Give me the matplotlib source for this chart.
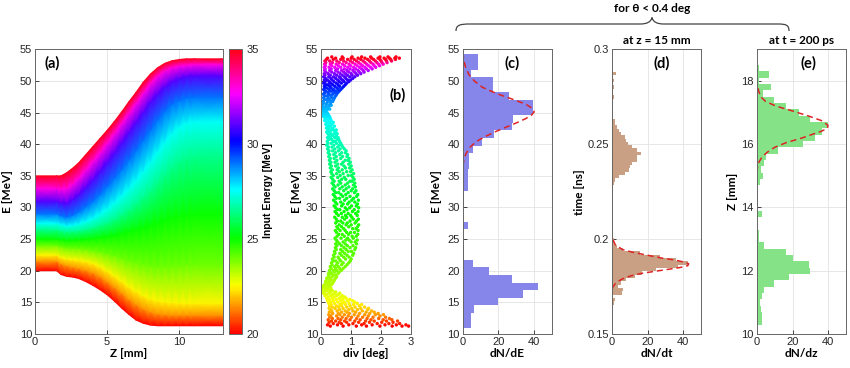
import numpy as np
import matplotlib.pyplot as plt
from matplotlib.path import Path
from matplotlib.patches import PathPatch
from matplotlib.colors import Normalize

# ---- (a) energy along z, one track per input energy
z_mm = [0, 1.5, 1.8, 2.2, 2.6, 3, 3.5, 4, 4.5, 5, 5.5, 6, 6.5, 7, 7.5, 8, 8.5,
        9, 9.5, 10, 10.5, 11, 13]
input_energy = [20, 21.5, 22.5, 24, 25, 26.5, 27.5, 29, 31, 33, 35]
energy_tracks = [
    [20.0, 20.0, 19.4, 19.1, 19.0, 18.8, 18.3, 17.7, 17.0, 16.2, 15.2, 14.1,
     13.1, 12.2, 11.7, 11.4, 11.3, 11.3, 11.3, 11.3, 11.3, 11.3, 11.3],
    [21.5, 21.5, 21.1, 20.8, 20.6, 20.4, 20.1, 19.7, 19.1, 18.3, 17.4, 16.5,
     15.5, 14.7, 14.0, 13.5, 13.2, 13.1, 13.0, 13.0, 13.0, 13.0, 13.0],
    [22.5, 22.5, 22.1, 21.9, 21.8, 21.7, 21.5, 21.2, 20.7, 20.0, 19.2, 18.4,
     17.5, 16.8, 16.1, 15.6, 15.3, 15.1, 15.0, 14.9, 14.9, 14.9, 14.9],
    [24.0, 24.0, 23.8, 23.6, 23.55, 23.5, 23.4, 23.2, 23.0, 22.7, 22.4, 22.0,
     21.6, 21.3, 21.0, 20.8, 20.7, 20.7, 20.8, 20.9, 21.0, 21.0, 21.0],
    [25.0, 25.0, 24.9, 24.8, 24.85, 24.9, 25.0, 25.1, 25.25, 25.4, 25.6, 25.9,
     26.2, 26.5, 26.8, 27.2, 27.6, 28.0, 28.3, 28.6, 28.8, 29.0, 29.0],
    [26.5, 26.5, 26.3, 26.2, 26.25, 26.3, 26.5, 26.8, 27.2, 27.6, 28.2, 28.9,
     29.7, 30.6, 31.6, 32.7, 34.0, 35.2, 36.3, 37.2, 37.8, 38.1, 38.2],
    [27.5, 27.5, 27.3, 27.1, 27.2, 27.4, 27.8, 28.3, 29.0, 29.8, 30.8, 31.8,
     33.0, 34.3, 35.7, 37.2, 38.8, 40.3, 41.7, 42.7, 43.3, 43.5, 43.6],
    [29.0, 29.0, 28.7, 28.5, 28.8, 29.3, 30.1, 31.0, 32.1, 33.3, 34.6, 36.0,
     37.5, 39.0, 40.6, 42.2, 43.8, 45.2, 46.3, 46.9, 47.3, 47.4, 47.4],
    [31.0, 31.0, 30.8, 30.7, 31.3, 32.0, 33.2, 34.4, 35.8, 37.2, 38.7, 40.3,
     41.9, 43.5, 45.1, 46.7, 48.0, 49.1, 49.9, 50.4, 50.7, 50.8, 50.8],
    [33.0, 33.0, 32.9, 33.0, 33.7, 34.6, 35.9, 37.3, 38.7, 40.2, 41.7, 43.3,
     44.9, 46.5, 48.1, 49.6, 50.8, 51.6, 52.1, 52.4, 52.5, 52.6, 52.6],
    [35.0, 35.0, 35.0, 35.5, 36.2, 37.0, 38.3, 39.6, 40.9, 42.2, 43.6, 45.1,
     46.7, 48.2, 49.8, 51.1, 52.1, 52.8, 53.2, 53.4, 53.5, 53.5, 53.5],
]

# ---- (b) divergence vs final energy, rows of points
b_rows_E = [11.25, 11.45, 11.65, 11.85, 12.05, 12.25, 12.45, 12.65, 12.85, 13.05,
            13.25, 13.45, 13.65, 13.85, 14.05, 14.25, 14.45, 14.65, 14.85, 15.05,
            15.25, 15.45, 15.65, 15.85, 16.05, 16.25, 16.45, 16.65, 16.85, 17.05,
            17.25, 17.45, 17.65, 17.85, 18.05, 18.3, 18.55, 18.8, 19.05, 19.3,
            19.55, 19.8, 20.05, 20.35, 20.65, 20.95, 21.25, 21.55, 21.85, 22.15,
            22.45, 22.75, 23.05, 23.35, 23.65, 23.95, 24.25, 24.55, 24.85, 25.15,
            25.45, 25.75, 26.05, 26.35, 26.65, 26.95, 27.25, 27.55, 27.85, 28.15,
            28.45, 28.75, 29.05, 29.35, 29.65, 29.95, 30.25, 30.55, 30.85, 31.15,
            31.45, 31.75, 32.05, 32.35, 32.65, 32.95, 33.25, 33.55, 33.85, 34.15,
            34.45, 34.75, 35.05, 35.35, 35.65, 35.95, 36.25, 36.55, 36.85, 37.15,
            37.45, 37.75, 38.05, 38.35, 38.65, 38.95, 39.25, 39.55, 39.85, 40.15,
            40.45, 40.75, 41.05, 41.35, 41.65, 41.95, 42.25, 42.55, 42.85, 43.15,
            43.45, 43.75, 44.05, 44.35, 44.65, 44.95, 45.25, 45.55, 45.85, 46.15,
            46.45, 46.75, 47.05, 47.35, 47.65, 47.9, 48.15, 48.4, 48.65, 48.9,
            49.15, 49.4, 49.65, 49.9, 50.15, 50.4, 50.65, 50.9, 51.15, 51.4,
            51.65, 51.9, 52.15, 52.4, 52.65, 52.9, 53.15, 53.4, 53.6, 53.8]
b_rows_div = [
    [0.31, 0.74, 1.18, 1.52, 1.97, 2.38, 2.71, 2.93],
    [0.22, 0.55, 0.93, 1.36, 1.71, 2.14, 2.52, 2.84],
    [0.41, 0.68, 1.07, 1.44, 1.88, 2.27, 2.63],
    [0.27, 0.61, 0.86, 1.26, 1.62, 2.03, 2.41],
    [0.35, 0.49, 0.79, 1.13, 1.49, 1.78, 2.19, 2.56],
    [0.24, 0.66, 0.97, 1.31, 1.67, 2.08, 2.37],
    [0.38, 0.57, 0.84, 1.19, 1.54, 1.93, 2.29],
    [0.29, 0.71, 1.02, 1.39, 1.74, 2.16],
    [0.33, 0.52, 0.91, 1.24, 1.58, 1.97],
    [0.26, 0.63, 0.78, 1.11, 1.46, 1.82, 2.09],
    [0.39, 0.58, 0.95, 1.29, 1.63, 1.91],
    [0.28, 0.69, 0.87, 1.16, 1.51, 1.78],
    [0.36, 0.54, 0.81, 1.07, 1.38, 1.69],
    [0.31, 0.62, 0.93, 1.22, 1.56],
    [0.27, 0.47, 0.74, 1.03, 1.33, 1.59],
    [0.38, 0.59, 0.86, 1.14, 1.46],
    [0.29, 0.51, 0.69, 0.97, 1.28],
    [0.34, 0.63, 0.82, 1.09, 1.36],
    [0.26, 0.45, 0.71, 0.94, 1.21],
    [0.32, 0.56, 0.78, 1.12],
    [0.22, 0.41, 0.66, 0.89, 1.06],
    [0.29, 0.51, 0.73, 0.96],
    [0.19, 0.38, 0.61, 0.84],
    [0.24, 0.44, 0.67, 0.79],
    [0.13, 0.33, 0.52, 0.71],
    [0.18, 0.39, 0.58],
    [0.08, 0.27, 0.46, 0.63],
    [0.12, 0.31, 0.49],
    [0.04, 0.21, 0.38],
    [0.01, 0.14, 0.29],
    [0.06, 0.19, 0.33],
    [0.03, 0.11, 0.26],
    [0.09, 0.22, 0.31],
    [0.13, 0.27, 0.36],
    [0.17, 0.24, 0.39],
    [0.15, 0.29, 0.42],
    [0.21, 0.34, 0.45],
    [0.19, 0.31, 0.48],
    [0.24, 0.37, 0.52],
    [0.27, 0.41, 0.49],
    [0.25, 0.36, 0.57],
    [0.31, 0.46, 0.61],
    [0.28, 0.42, 0.53, 0.68],
    [0.34, 0.49, 0.63, 0.74],
    [0.31, 0.45, 0.58, 0.81],
    [0.37, 0.52, 0.69, 0.87],
    [0.35, 0.56, 0.74, 0.93],
    [0.41, 0.49, 0.66, 0.98],
    [0.38, 0.61, 0.82, 1.01],
    [0.44, 0.57, 0.76, 0.94],
    [0.42, 0.68, 0.87, 1.06],
    [0.47, 0.63, 0.79, 1.09],
    [0.45, 0.72, 0.91, 1.02],
    [0.51, 0.66, 0.84, 1.13],
    [0.48, 0.77, 0.97, 1.16],
    [0.53, 0.69, 0.88, 1.07],
    [0.49, 0.62, 0.81, 1.19],
    [0.56, 0.74, 1.01, 1.14],
    [0.51, 0.83, 0.94, 1.21],
    [0.47, 0.67, 0.89, 1.08],
    [0.54, 0.78, 1.04, 1.18],
    [0.59, 0.71, 0.92, 1.23],
    [0.52, 0.86, 0.99, 1.12],
    [0.48, 0.64, 0.81, 1.24],
    [0.57, 0.76, 1.06, 1.17],
    [0.53, 0.69, 0.93, 1.22],
    [0.61, 0.84, 1.01, 1.26],
    [0.49, 0.73, 0.88, 1.14],
    [0.55, 0.66, 0.97, 1.19],
    [0.51, 0.79, 1.08, 1.25],
    [0.46, 0.71, 0.86, 1.03],
    [0.58, 0.82, 0.99, 1.21],
    [0.52, 0.68, 0.91, 1.16],
    [0.47, 0.77, 1.05, 1.24],
    [0.55, 0.63, 0.87, 1.11],
    [0.49, 0.81, 0.96, 1.26],
    [0.44, 0.69, 1.02, 1.18],
    [0.53, 0.74, 0.89, 1.22],
    [0.48, 0.66, 0.94, 1.13],
    [0.42, 0.79, 1.03, 1.25],
    [0.51, 0.62, 0.86, 1.09],
    [0.46, 0.73, 0.97, 1.19],
    [0.41, 0.67, 0.83, 1.23],
    [0.49, 0.59, 0.91, 1.12],
    [0.44, 0.76, 1.01, 1.17],
    [0.39, 0.63, 0.84, 1.06],
    [0.47, 0.71, 0.93, 1.15],
    [0.42, 0.57, 0.81, 1.09],
    [0.37, 0.66, 0.89, 1.13],
    [0.44, 0.61, 0.97, 1.04],
    [0.39, 0.69, 0.83, 1.11],
    [0.34, 0.56, 0.78, 1.07],
    [0.41, 0.64, 0.91, 1.02],
    [0.36, 0.52, 0.74, 1.09],
    [0.33, 0.61, 0.86, 0.99],
    [0.38, 0.54, 0.71, 1.04],
    [0.31, 0.58, 0.82, 0.96],
    [0.35, 0.49, 0.77, 1.01],
    [0.29, 0.56, 0.69, 0.93],
    [0.33, 0.47, 0.74, 0.98],
    [0.28, 0.53, 0.81, 0.91],
    [0.31, 0.44, 0.66, 0.94],
    [0.26, 0.51, 0.72, 0.87],
    [0.29, 0.43, 0.63, 0.89],
    [0.24, 0.48, 0.69, 0.82],
    [0.27, 0.39, 0.58, 0.84],
    [0.22, 0.46, 0.64, 0.78],
    [0.25, 0.37, 0.56, 0.73],
    [0.19, 0.43, 0.61, 0.69],
    [0.23, 0.34, 0.52, 0.66],
    [0.21, 0.41, 0.47, 0.62],
    [0.26, 0.36, 0.54, 0.59],
    [0.22, 0.31, 0.46, 0.57],
    [0.27, 0.38, 0.51],
    [0.23, 0.33, 0.44, 0.54],
    [0.19, 0.29, 0.48],
    [0.24, 0.35, 0.42, 0.51],
    [0.18, 0.27, 0.39],
    [0.21, 0.31, 0.45],
    [0.16, 0.26, 0.36],
    [0.19, 0.29, 0.41],
    [0.12, 0.23, 0.34],
    [0.15, 0.26, 0.31],
    [0.09, 0.19, 0.29],
    [0.06, 0.16, 0.25],
    [0.03, 0.12, 0.21],
    [0.01, 0.08, 0.17],
    [0.02, 0.11, 0.22, 0.29],
    [0.05, 0.14, 0.25],
    [0.04, 0.17, 0.28, 0.34],
    [0.08, 0.19, 0.31],
    [0.07, 0.22, 0.33, 0.39],
    [0.11, 0.18, 0.29, 0.42],
    [0.09, 0.24, 0.36, 0.45],
    [0.13, 0.21, 0.33, 0.49],
    [0.08, 0.27, 0.39, 0.52],
    [0.12, 0.23, 0.44, 0.56],
    [0.15, 0.31, 0.36, 0.49, 0.61],
    [0.09, 0.26, 0.42, 0.58, 0.66],
    [0.13, 0.19, 0.34, 0.53, 0.71],
    [0.11, 0.29, 0.46, 0.62, 0.76],
    [0.16, 0.24, 0.39, 0.57, 0.81],
    [0.09, 0.32, 0.51, 0.68, 0.86],
    [0.14, 0.27, 0.43, 0.61, 0.77, 0.93],
    [0.11, 0.21, 0.37, 0.56, 0.72, 0.89, 0.99],
    [0.15, 0.33, 0.49, 0.66, 0.83, 1.06],
    [0.09, 0.26, 0.42, 0.61, 0.79, 0.96, 1.13],
    [0.13, 0.31, 0.52, 0.71, 0.88, 1.04, 1.22],
    [0.11, 0.24, 0.45, 0.64, 0.82, 1.01, 1.17, 1.33],
    [0.16, 0.36, 0.57, 0.76, 0.93, 1.12, 1.28, 1.44],
    [0.12, 0.29, 0.49, 0.69, 0.87, 1.07, 1.24, 1.41, 1.58],
    [0.14, 0.34, 0.55, 0.78, 0.97, 1.16, 1.36, 1.52, 1.71],
    [0.11, 0.27, 0.46, 0.66, 0.89, 1.09, 1.29, 1.47, 1.66, 1.83],
    [0.15, 0.36, 0.58, 0.79, 0.99, 1.21, 1.39, 1.59, 1.78, 1.96],
    [0.12, 0.31, 0.51, 0.72, 0.94, 1.14, 1.33, 1.53, 1.74, 1.92, 2.08],
    [0.16, 0.38, 0.61, 0.84, 1.06, 1.26, 1.47, 1.67, 1.87, 2.04, 2.21],
    [0.13, 0.29, 0.53, 0.76, 0.98, 1.19, 1.41, 1.62, 1.82, 2.01, 2.19, 2.36],
    [0.18, 0.41, 0.66, 0.89, 1.11, 1.33, 1.56, 1.76, 1.97, 2.16, 2.33, 2.49],
    [0.22, 0.49, 0.74, 1.01, 1.24, 1.47, 1.69, 1.91, 2.11, 2.29, 2.47, 2.62],
    [0.36, 0.71, 1.04, 1.36, 1.66, 1.97, 2.24, 2.51],
]

# ---- (c) dN/dE, (d) dN/dt, (e) dN/dz histograms with fitted peaks
c_edges = np.linspace(10.9, 54.2, 37)
c_counts = [4.7, 4.7, 6.5, 20, 34, 41.9, 27.7, 14.6, 5.6, 0.5, 0.5, 0, 0.4, 2.8,
            0.4, 0.4, 1, 1, 2.8, 2.8, 2.8, 3.7, 3.7, 5.6, 10.7, 17.8, 27.7, 28.4,
            39.6, 39.6, 25.8, 16.8, 16.8, 4.7, 8.8, 8.8]
c_fit_E = [35, 36.5, 37.5, 38.5, 39.5, 40.4, 41.2, 42, 42.6, 43.3, 44, 44.6, 45.1,
           45.6, 46.3, 47, 48, 49, 50, 51, 52, 53, 54.5]
c_fit_N = [0, 0.1, 0.6, 1.8, 4, 7.5, 12.5, 18.5, 23.5, 29.5, 35, 38.5, 40, 39.3,
           35.5, 29, 19, 11, 6.5, 3.5, 1.8, 0.8, 0]

d_edges = np.linspace(0.1655, 0.288, 71)
d_counts = [1.5, 1.9, 0.8, 5.5, 6.5, 3.7, 5, 8, 13, 17, 25, 37, 42.5, 36, 27, 16,
            6.5, 2.8, 1.5, 1.2, 0.8, 0.6, 1.0, 0.5, 0.8, 0.4, 0.6, 0.8, 0.5, 0.7,
            0.4, 0.6, 0.8, 0.5, 0.7, 1.0, 1.2, 1.9, 4.3, 7.4, 9.9, 10, 11.5, 14, 14,
            16.4, 14, 11.2, 9.3, 7.8, 7.4, 5, 4.3, 3.1, 1.9, 1.9, 1.0, 0.6, 1.0, 0.7,
            1.0, 0.5, 1.2, 0.8, 0.6, 1.2, 0.8, 1.3, 0.7, 2.6]
d_fit_t = [0.174, 0.175, 0.1765, 0.178, 0.1795, 0.181, 0.182, 0.183, 0.184, 0.185,
           0.186, 0.187, 0.188, 0.189, 0.19, 0.1915, 0.193, 0.1945, 0.197, 0.2002]
d_fit_N = [0.3, 0.8, 2, 4, 7, 12, 17, 24, 31, 38, 42.5, 43, 40, 35, 28, 20, 12, 6,
           2, 0.5]

e_edges = np.linspace(10.3, 18.5, 42)
e_counts = [3, 3, 2.4, 1.9, 3, 4.3, 9.8, 18, 30, 29, 20, 16.3, 4.3, 1.5, 1.5, 0.4,
            0.3, 3, 0.4, 0.5, 0.5, 0.5, 1.9, 3.7, 2.4, 4.3, 5.2, 11.7, 26, 32.6,
            36.7, 40, 30, 23.7, 16.3, 9.8, 3.3, 8, 1.5, 7, 1.5]
e_fit_z = [15.1, 15.3, 15.45, 15.6, 15.75, 15.9, 16.05, 16.2, 16.3, 16.4, 16.5,
           16.6, 16.75, 16.9, 17.05, 17.2, 17.35, 17.5, 17.7, 17.9]
e_fit_N = [0.1, 0.5, 1.4, 3, 6, 10, 16.5, 25.5, 30.5, 35.7, 39.5, 39.8, 36, 28.5,
           20, 11, 5, 2.2, 1, 0.3]

W, H = 850, 368
tick_font = ['Liberation Sans', 'DejaVu Sans']
bold_font = ['Lato', 'DejaVu Sans']
plt.rcParams['font.family'] = tick_font
plt.rcParams['font.size'] = 8

fig = plt.figure(figsize=(W / 100, H / 100), dpi=100)


def px_axes(x0, x1, y0=49.3, y1=334):
    return fig.add_axes([x0 / W, 1 - y1 / H, (x1 - x0) / W, (y1 - y0) / H])


def style(ax):
    ax.grid(True, color='#e3e3e3', linewidth=0.6)
    ax.set_axisbelow(True)
    for s in ax.spines.values():
        s.set_color('#666666')
        s.set_linewidth(0.7)
    ax.tick_params(direction='in', length=3, width=0.6, colors='#262626',
                   labelsize=8, pad=2)


def bold_label(ax, xl, yl, ycoord):
    ax.set_xlabel(xl, fontfamily=bold_font, fontweight='bold', fontsize=8.5,
                  labelpad=1)
    ax.set_ylabel(yl, fontfamily=bold_font, fontweight='bold', fontsize=8.5)
    ax.yaxis.set_label_coords(ycoord, 0.5)


def tag(ax, s, x, y):
    ax.text(x, y, s, transform=ax.transAxes, ha='center', va='center',
            fontfamily=bold_font, fontweight='bold', fontsize=10.5)


cmap = plt.get_cmap('hsv')
norm = Normalize(20, 35)

# (a)
ax_a = px_axes(35, 222.6)
Z = np.tile(z_mm, (len(input_energy), 1))
Ezt = np.array(energy_tracks)
Cin = np.repeat(np.array(input_energy)[:, None], len(z_mm), axis=1)
mesh = ax_a.pcolormesh(Z, Ezt, Cin, shading='gouraud', cmap=cmap, norm=norm)
ax_a.set_xlim(0, 13)
ax_a.set_ylim(10, 55)
ax_a.set_xticks([0, 5, 10])
ax_a.set_yticks(range(10, 56, 5))
style(ax_a)
bold_label(ax_a, 'Z [mm]', 'E [MeV]', -0.117)
tag(ax_a, '(a)', 0.089, 0.952)

cax = px_axes(229, 242)
cb = fig.colorbar(mesh, cax=cax, ticks=[20, 25, 30, 35])
cb.outline.set_edgecolor('#666666')
cb.outline.set_linewidth(0.7)
cax.tick_params(direction='in', length=0, colors='#262626', labelsize=8, pad=3)
fig.text(268 / W, 1 - 190 / H, 'Input Energy [MeV]', rotation=90,
         ha='center', va='center', fontfamily=['Liberation Sans'],
         fontweight='bold', fontsize=7.5)

# (b)
ax_b = px_axes(321, 410.7)
bE = np.concatenate([[e] * len(d) for e, d in zip(b_rows_E, b_rows_div)])
bD = np.concatenate(b_rows_div)
final_E = Ezt[:, -1]
bC = np.interp(bE, final_E, input_energy)
ax_b.scatter(bD, bE, c=bC, cmap=cmap, norm=norm, s=6, linewidths=0)
ax_b.set_xlim(0, 3)
ax_b.set_ylim(10, 55)
ax_b.set_xticks([0, 1, 2, 3])
ax_b.set_yticks(range(10, 56, 5))
style(ax_b)
bold_label(ax_b, 'div [deg]', 'E [MeV]', -0.212)
tag(ax_b, '(b)', 0.855, 0.84)

fit_style = dict(color='#dd2424', linewidth=1.1, dashes=(4, 2.5))

# (c)
ax_c = px_axes(462.7, 552)
ax_c.stairs(c_counts, c_edges, orientation='horizontal', fill=True,
            color='#8585ea')
ax_c.plot(c_fit_N, c_fit_E, **fit_style)
ax_c.set_xlim(0, 50)
ax_c.set_ylim(10, 55)
ax_c.set_xticks([0, 20, 40])
ax_c.set_yticks(range(10, 56, 5))
style(ax_c)
bold_label(ax_c, 'dN/dE', 'E [MeV]', -0.232)
tag(ax_c, '(c)', 0.55, 0.952)

# (d)
ax_d = px_axes(611.7, 701.2)
ax_d.stairs(d_counts, d_edges, orientation='horizontal', fill=True,
            color='#c9a083')
ax_d.plot(d_fit_N, d_fit_t, **fit_style)
ax_d.set_xlim(0, 50)
ax_d.set_ylim(0.15, 0.3)
ax_d.set_xticks([0, 20, 40])
ax_d.set_yticks([0.15, 0.2, 0.25, 0.3])
ax_d.set_yticklabels(['0.15', '0.2', '0.25', '0.3'])
style(ax_d)
bold_label(ax_d, 'dN/dt', 'time [ns]', -0.298)
tag(ax_d, '(d)', 0.56, 0.952)
ax_d.set_title('at z = 15 mm', fontfamily=bold_font, fontweight='bold',
               fontsize=8.5, pad=4)

# (e)
ax_e = px_axes(756.7, 846.2)
ax_e.stairs(e_counts, e_edges, orientation='horizontal', fill=True,
            color='#86e286')
ax_e.plot(e_fit_N, e_fit_z, **fit_style)
ax_e.set_xlim(0, 50)
ax_e.set_ylim(10, 19)
ax_e.set_xticks([0, 20, 40])
ax_e.set_yticks([10, 12, 14, 16, 18])
style(ax_e)
bold_label(ax_e, 'dN/dz', 'Z [mm]', -0.209)
tag(ax_e, '(e)', 0.58, 0.952)
ax_e.set_title('at t = 200 ps', fontfamily=bold_font, fontweight='bold',
               fontsize=8.5, pad=4)

# brace over (c)-(e)
pts = [(456, 31), (456, 25), (460, 24), (470, 24), (640, 24),
       (647, 24), (651, 22), (652, 17.5), (653, 22), (657, 24), (664, 24),
       (778, 24), (786, 24), (789, 25), (789, 31)]
codes = [Path.MOVETO, Path.CURVE4, Path.CURVE4, Path.CURVE4, Path.LINETO,
         Path.CURVE4, Path.CURVE4, Path.CURVE4, Path.CURVE4, Path.CURVE4,
         Path.CURVE4, Path.LINETO, Path.CURVE4, Path.CURVE4, Path.CURVE4]
verts = [(x / W, 1 - y / H) for x, y in pts]
fig.add_artist(PathPatch(Path(verts, codes), transform=fig.transFigure,
                         facecolor='none', edgecolor='#444444', linewidth=0.9))
fig.text(652 / W, 1 - 8 / H, 'for θ < 0.4 deg', ha='center', va='center',
         fontfamily=bold_font, fontweight='bold', fontsize=8.5)

fig.savefig('out.png', dpi=100)
